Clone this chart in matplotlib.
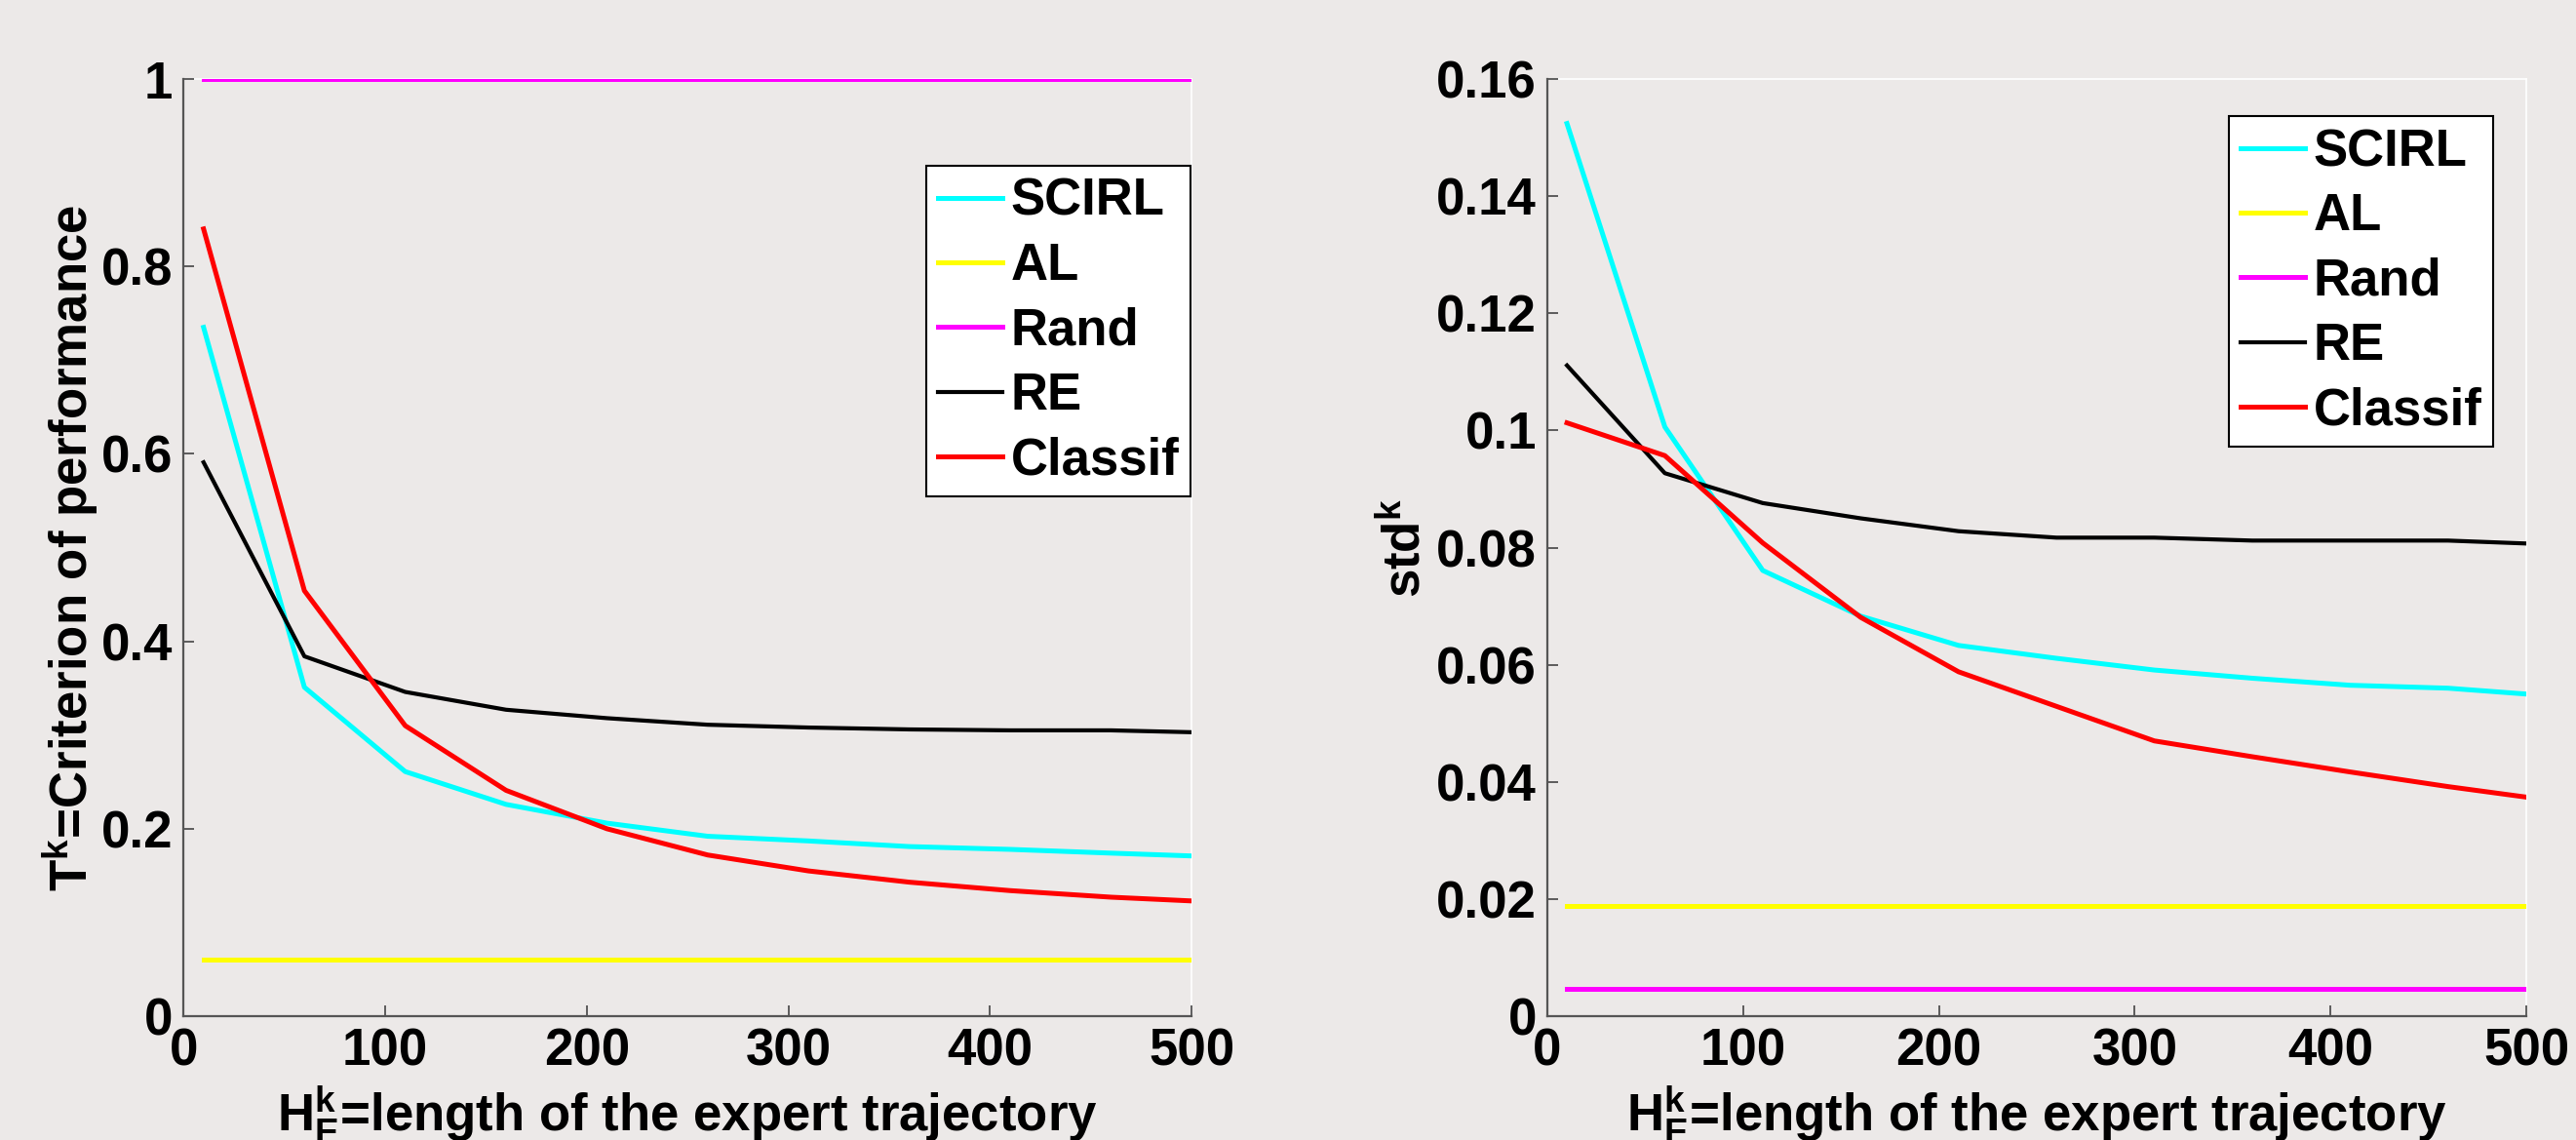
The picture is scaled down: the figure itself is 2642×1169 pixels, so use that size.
import matplotlib
matplotlib.use("Agg")
import matplotlib.pyplot as plt

plt.rcParams['font.family'] = ['Liberation Sans', 'DejaVu Sans']
plt.rcParams['font.weight'] = 'bold'
plt.rcParams['mathtext.fontset'] = 'custom'
plt.rcParams['mathtext.rm'] = 'Liberation Sans:bold'
plt.rcParams['mathtext.bf'] = 'Liberation Sans:bold'
plt.rcParams['mathtext.it'] = 'Liberation Sans:bold'
plt.rcParams['mathtext.default'] = 'bf'

# expert trajectory lengths
H = [10, 60, 110, 160, 210, 260, 310, 360, 410, 460, 500]

# criterion of performance T^k
T_scirl = [0.735, 0.351, 0.261, 0.226, 0.206, 0.192, 0.187, 0.181, 0.178, 0.174, 0.171]
T_classif = [0.840, 0.454, 0.310, 0.241, 0.200, 0.172, 0.155, 0.143, 0.134, 0.127, 0.123]
T_re = [0.591, 0.384, 0.346, 0.327, 0.318, 0.311, 0.308, 0.306, 0.305, 0.305, 0.303]
T_al = 0.060
T_rand = 1.0

# standard deviation std^k
S_scirl = [0.1524, 0.1006, 0.0761, 0.0683, 0.0633, 0.0611, 0.0591, 0.0577, 0.0565, 0.0560, 0.0550]
S_classif = [0.1013, 0.0957, 0.0808, 0.0681, 0.0588, 0.0529, 0.0470, 0.0443, 0.0417, 0.0392, 0.0374]
S_re = [0.1111, 0.0927, 0.0876, 0.0850, 0.0828, 0.0817, 0.0817, 0.0812, 0.0812, 0.0812, 0.0807]
S_al = 0.0189
S_rand = 0.0047

bg = '#ECE9E8'
fs = 38

fig = plt.figure(figsize=(26.42, 11.69), dpi=100, facecolor=bg)
ax1 = fig.add_axes([0.0712, 0.1086, 0.3914, 0.8221])
ax2 = fig.add_axes([0.6007, 0.1086, 0.3800, 0.8221])


def draw(ax, scirl, al, rand, re, classif, ymax, yticks, ylabels, ylabel, leg_anchor, ypad):
    ax.set_facecolor(bg)
    ax.plot(H, scirl, color='#00FFFF', lw=3.6, label='SCIRL')
    ax.plot(H, [al] * len(H), color='#FFFF00', lw=3.6, label='AL')
    ax.plot(H, [rand] * len(H), color='#FF00FF', lw=3.6, label='Rand')
    ax.plot(H, re, color='black', lw=3.0, label='RE')
    ax.plot(H, classif, color='#FF0000', lw=3.6, label='Classif')
    ax.set_xlim(0, 500)
    ax.set_ylim(0, ymax)
    ax.set_xticks([0, 100, 200, 300, 400, 500])
    ax.set_yticks(yticks)
    ax.set_yticklabels(ylabels)
    ax.tick_params(direction='in', length=8, width=1.2, color='#444444',
                   labelsize=fs, pad=8)
    for s in ['left', 'bottom']:
        ax.spines[s].set_color('#555555')
        ax.spines[s].set_linewidth(1.6)
    for s in ['top', 'right']:
        ax.spines[s].set_color('white')
        ax.spines[s].set_linewidth(1.2)
        ax.spines[s].set_zorder(0)
    ax.set_ylabel(ylabel, fontsize=fs, fontweight='bold', labelpad=ypad)
    ax.set_xlabel(r'$H_E^k$=length of the expert trajectory', fontsize=fs,
                  fontweight='bold', labelpad=6)
    leg = ax.legend(loc='upper right', bbox_to_anchor=leg_anchor, fontsize=fs,
                    fancybox=False, framealpha=1, edgecolor='black',
                    handlelength=1.25, handletextpad=0.17, labelspacing=0.31,
                    borderpad=0.22, borderaxespad=0)
    leg.get_frame().set_linewidth(1.5)
    for t in leg.get_texts():
        t.set_fontweight('bold')


draw(ax1, T_scirl, T_al, T_rand, T_re, T_classif, 1.0,
     [0, 0.2, 0.4, 0.6, 0.8, 1.0], ['0', '0.2', '0.4', '0.6', '0.8', '1'],
     r'$T^k$=Criterion of performance', (0.999, 0.907), 0)
draw(ax2, S_scirl, S_al, S_rand, S_re, S_classif, 0.16,
     [0, 0.02, 0.04, 0.06, 0.08, 0.1, 0.12, 0.14, 0.16],
     ['0', '0.02', '0.04', '0.06', '0.08', '0.1', '0.12', '0.14', '0.16'],
     r'$std^k$', (0.966, 0.960), 4)

fig.savefig("out.png", dpi=100, facecolor=bg)
